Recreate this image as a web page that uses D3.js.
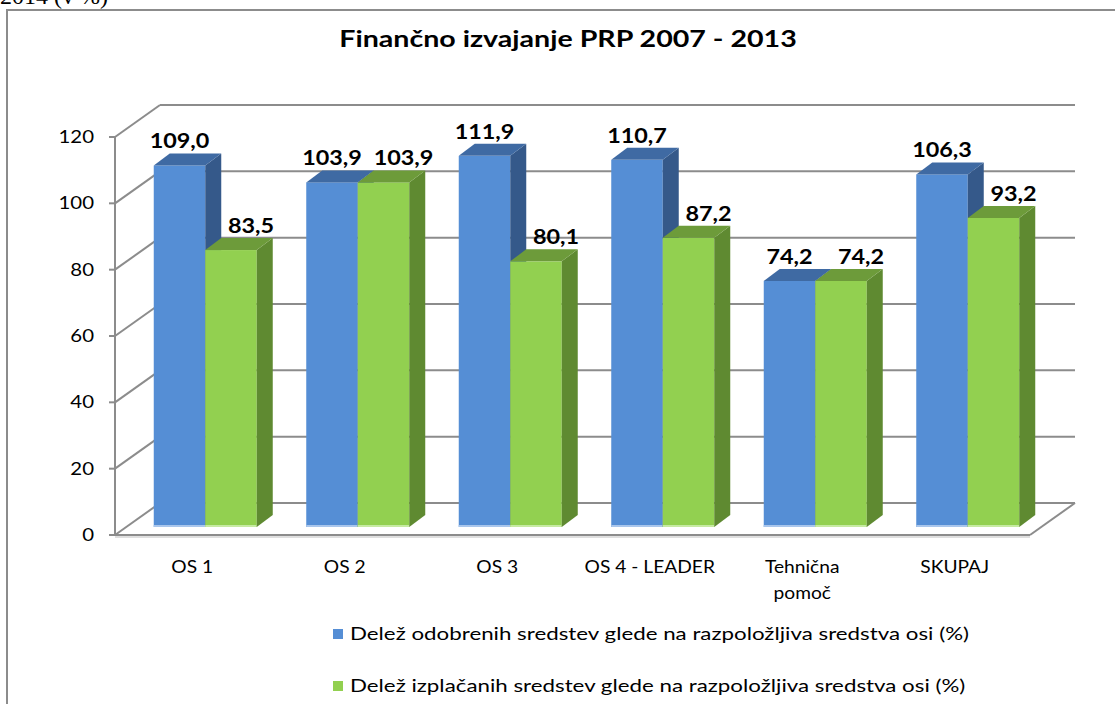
<!DOCTYPE html>
<html>
  <head>
    <meta charset="utf-8">
    <title>Finančno izvajanje PRP 2007 - 2013</title>
    <script src="https://cdn.jsdelivr.net/npm/d3@7"></script>
    <style>
      body { margin: 0; background: #fff; }
      #chart { display: block; }
      text { font-family: Lato, "Noto Sans", sans-serif; fill: #000; }
      .caption { font-family: "Liberation Serif", serif; }
    </style>
  </head>

  <body>
    <svg id="chart" width="1115" height="704"></svg>

    <script>
      // data
      const categories = ["OS 1", "OS 2", "OS 3", "OS 4 - LEADER", "Tehnična pomoč", "SKUPAJ"];
      const categoryLines = [["OS 1"], ["OS 2"], ["OS 3"], ["OS 4 - LEADER"], ["Tehnična", "pomoč"], ["SKUPAJ"]];
      const approved = [109.0, 103.9, 111.9, 110.7, 74.2, 106.3];
      const paid = [83.5, 103.9, 80.1, 87.2, 74.2, 93.2];
      const seriesNames = [
        "Delež odobrenih sredstev glede na razpoložljiva sredstva osi (%)",
        "Delež izplačanih sredstev glede na razpoložljiva sredstva osi (%)"
      ];
      const yTicks = [0, 20, 40, 60, 80, 100, 120];
      const title = "Finančno izvajanje PRP 2007 - 2013";

      // colours per series: front, top, side, bottom edge
      const palette = [
        { front: "#558ed5", top: "#3f6aa3", side: "#35598a", edge: "#a9c6ec" },
        { front: "#92d050", top: "#6d9b3a", side: "#5f8a31", edge: "#c6eaa2" }
      ];

      const fmt = d3.formatLocale({ decimal: ",", thousands: ".", grouping: [3], currency: ["", ""] }).format(".1f");

      const svg = d3.select("#chart");

      // 3d geometry
      const wall = { dx: 45, dy: -32 };   // back wall offset
      const shift = { dx: 14, dy: -8 };   // bars' front face offset
      const depth = { dx: 16, dy: -12 };  // bar thickness

      const x = d3.scaleBand()
        .domain(d3.range(categories.length))
        .range([115, 1030]);
      const y = d3.scaleLinear()
        .domain([0, 120])
        .range([535, 137]);
      const xs = d3.scaleBand()
        .domain([0, 1])
        .range([-51.5, 51.5]);

      // the picture is horizontally stretched, so text gets a scale too
      function stretchedText(g, tx, ty, str, sx) {
        return g.append("text")
          .attr("transform", "translate(" + tx + "," + ty + ") scale(" + sx + ",1)")
          .text(str);
      }

      // outer frame
      svg.append("rect")
        .attr("x", 7).attr("y", 10)
        .attr("width", 1130).attr("height", 720)
        .attr("fill", "none")
        .attr("stroke", "#8c8c8c")
        .attr("stroke-width", 2);

      // cut-off caption above the frame
      svg.append("text")
        .attr("class", "caption")
        .attr("x", 0).attr("y", 4)
        .attr("font-size", 24)
        .attr("fill", "#222")
        .text("2014 (v %)");

      // title
      stretchedText(svg, 568, 47, title, 1.3)
        .attr("text-anchor", "middle")
        .attr("font-size", 22)
        .attr("font-weight", "bold");

      // walls and gridlines
      const grid = svg.append("g")
        .attr("stroke", "#8c8c8c")
        .attr("stroke-width", 2)
        .attr("fill", "none");

      const x0 = x.range()[0], x1 = x.range()[1];

      grid.selectAll(".back")
        .data(yTicks)
        .join("line")
        .attr("x1", x0 + wall.dx)
        .attr("x2", x1 + wall.dx)
        .attr("y1", d => y(d) + wall.dy)
        .attr("y2", d => y(d) + wall.dy);

      grid.selectAll(".side")
        .data(yTicks)
        .join("line")
        .attr("class", "side")
        .attr("x1", x0)
        .attr("x2", x0 + wall.dx)
        .attr("y1", d => y(d))
        .attr("y2", d => y(d) + wall.dy);

      // floor front edge and right edge
      grid.append("line")
        .attr("x1", x0).attr("x2", x1)
        .attr("y1", y(0)).attr("y2", y(0));
      grid.append("line")
        .attr("x1", x0).attr("x2", x1)
        .attr("y1", y(0) + 2).attr("y2", y(0) + 2)
        .attr("stroke", "#d4d4d4")
        .attr("stroke-width", 1.5);
      grid.append("line")
        .attr("x1", x1).attr("x2", x1 + wall.dx)
        .attr("y1", y(0)).attr("y2", y(0) + wall.dy);

      // y axis
      const yAxis = svg.append("g");
      yAxis.append("line")
        .attr("x1", x0).attr("x2", x0)
        .attr("y1", y(0)).attr("y2", y(120))
        .attr("stroke", "#8c8c8c")
        .attr("stroke-width", 2);
      yAxis.selectAll(".tick")
        .data(yTicks)
        .join("line")
        .attr("x1", x0 - 6).attr("x2", x0)
        .attr("y1", d => y(d)).attr("y2", d => y(d))
        .attr("stroke", "#8c8c8c")
        .attr("stroke-width", 2);
      yAxis.selectAll(".lab")
        .data(yTicks)
        .join("text")
        .attr("transform", d => "translate(94," + (y(d) + 6) + ") scale(1.2,1)")
        .attr("text-anchor", "end")
        .attr("font-size", 17)
        .attr("fill", "#111")
        .text(d => d);

      // bars
      const bars = svg.append("g");
      const series = [approved, paid];

      categories.forEach((c, i) => {
        series.forEach((vals, s) => {
          const v = vals[i];
          const col = palette[s];
          const left = x(i) + x.bandwidth() / 2 + shift.dx + xs(s);
          const right = left + xs.bandwidth();
          const top = y(v) + shift.dy;
          const bottom = y(0) + shift.dy;
          const g = bars.append("g");

          g.append("rect")
            .attr("x", left).attr("y", top)
            .attr("width", right - left).attr("height", bottom - top)
            .attr("fill", col.front);
          g.append("rect")
            .attr("x", left).attr("y", bottom - 2)
            .attr("width", right - left).attr("height", 2)
            .attr("fill", col.edge);
          g.append("path")
            .attr("d", d3.line()([
              [right, top], [right + depth.dx, top + depth.dy],
              [right + depth.dx, bottom + depth.dy], [right, bottom]
            ]) + "Z")
            .attr("fill", col.side);
          g.append("path")
            .attr("d", d3.line()([
              [left, top], [left + depth.dx, top + depth.dy],
              [right + depth.dx, top + depth.dy], [right, top]
            ]) + "Z")
            .attr("fill", col.top);
        });
      });

      // value labels
      const labelShift = [0, 20];
      categories.forEach((c, i) => {
        series.forEach((vals, s) => {
          const v = vals[i];
          const cx = x(i) + x.bandwidth() / 2 + shift.dx + xs(s) + xs.bandwidth() / 2 + labelShift[s];
          stretchedText(svg, cx, y(v) + shift.dy + depth.dy - 5, fmt(v), 1.17)
            .attr("text-anchor", "middle")
            .attr("font-size", 20)
            .attr("font-weight", "bold");
        });
      });

      // category labels
      categories.forEach((c, i) => {
        categoryLines[i].forEach((line, k) => {
          stretchedText(svg, x(i) + x.bandwidth() / 2 + 1, 573 + k * 26, line, 1.13)
            .attr("text-anchor", "middle")
            .attr("font-size", 17)
            .attr("fill", "#111");
        });
      });

      // legend
      const legend = svg.append("g");
      seriesNames.forEach((name, s) => {
        const ly = 634 + s * 52;
        legend.append("rect")
          .attr("x", 333).attr("y", ly - 5)
          .attr("width", 10).attr("height", 10)
          .attr("fill", palette[s].front);
        stretchedText(legend, 350, ly + 6, name, 1.24)
          .attr("font-size", 18)
          .attr("fill", "#111");
      });
    </script>
  </body>
</html>
